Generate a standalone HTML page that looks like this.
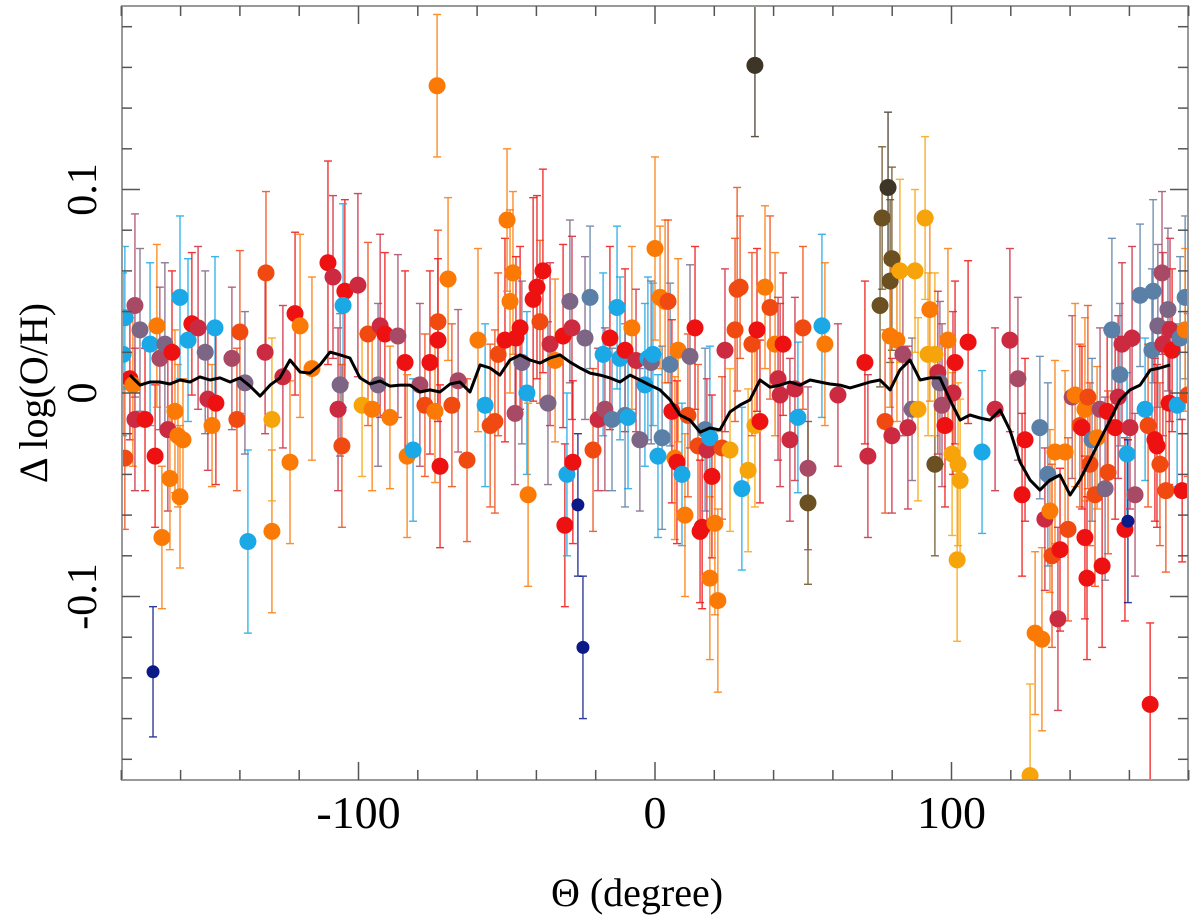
<!DOCTYPE html>
<html><head><meta charset="utf-8"><style>
body{margin:0;background:#fff}
svg{display:block}
text{font-family:"Liberation Serif",serif;fill:#000}
</style></head><body>
<svg id="chart" width="1200" height="918">
<defs><clipPath id="pc"><rect x="122" y="6" width="1066" height="774"/></clipPath></defs>
<g id="bars" clip-path="url(#pc)"></g>
<g id="pts" clip-path="url(#pc)"></g>
<g id="run" clip-path="url(#pc)"></g>
<g id="axes"></g>
<text x="637" y="906" font-size="40" text-anchor="middle">Θ (degree)</text>
<text transform="translate(47,393) rotate(-90)" font-size="40" text-anchor="middle">Δ log(O/H)</text>
</svg>
<script>
const COLORS={R:"#ee1111",OR:"#f04a10",O:"#fb7a06",A:"#f7a30a",C:"#cc2a40",M:"#a84a66",P:"#7d6585",S:"#5a80a8",B:"#1aa8e6",N:"#0c1a88",D:"#3d3526",W:"#6b5022"};
const xTicks=[-100,0,100];
const xTickLabels=["-100","0","100"];
const yTicks=[-0.1,0,0.1];
const yTickLabels=["-0.1","0","0.1"];
const thetas=[
-179.4,-178.8,-178.8,-177.1,-176.1,-175.4,-175.4,-173.7,-172,-170.3,
-169.3,-168.6,-168,-167,-166.3,-165.3,-164.3,-163.6,-162.9,-161.9,
-160.9,-160.2,-160.2,-159.2,-157.5,-156.2,-154.1,-151.7,-150.8,-149.4,
-148.4,-148.1,-142.7,-141,-140,-138.3,-137.3,-131.2,-131.5,-129.2,
-129.2,-125.5,-123.1,-121.4,-119.7,-115.7,-110.3,-108.6,-106.9,-106.2,
-104.6,-105.2,-105.6,-100.2,-98.8,-96.8,-95.4,-93.4,-92.7,-91.1,
-89.4,-86.7,-84.3,-83.6,-81.6,-79.3,-77.6,-75.9,-74.2,-73.2,
-72.5,-73.2,-73.5,-69.8,-68.5,-66.4,-63.4,-59.7,-57.3,-55.6,
-54,-52.9,-50.6,-49.9,-48.9,-47.9,-47.2,-46.9,-45.5,-44.9,
-43.2,-42.8,-41.1,-39.8,-37.8,-38.8,-36.1,-35.4,-33.7,-31,
-30.4,-29.7,-28.7,-28,-27.7,-26,-24.3,-23.6,-21.9,-20.9,
-19.2,-17.5,-16.9,-15.2,-14.5,-12.8,-11.8,-10.1,-10.1,-9.1,
-7.8,-6.4,-5.1,-3.4,-2.4,-1.3,-0.7,0,1,1.7,
2.4,3.4,4.4,5.1,5.7,6.7,7.4,7.8,9.1,10.1,
11.1,11.8,13.5,14.5,15.2,15.9,16.9,17.5,18.5,18.5,
19.2,20.2,21.2,22.6,23.6,25.3,27,27.7,28.7,29.3,
31.4,32.7,33.7,34.4,35.4,37.1,38.8,40.5,41.5,42.2,
43.2,33.7,45.5,47.2,48.2,49.9,51.6,51.6,56.3,57.3,
61.7,71.8,70.8,76.6,75.9,78.6,77.6,79.3,79.9,79.3,
79.9,81.6,82.6,83.6,85.3,86.7,87.7,88.7,91.1,92.1,
92.7,94.4,94.4,95.4,96.1,96.8,97.8,98.8,100.2,100.5,
101.2,102.2,101.9,102.9,105.6,110.3,114.7,119.7,122.4,123.8,
124.8,126.5,128.2,129.8,130.5,131.5,132.5,133.2,133.9,134.9,
135.9,136.6,138.3,139.3,140.7,141.7,143.3,144,145,145,
145.7,146,146.7,147.4,148.4,149.1,150.1,150.8,151.8,152.5,
152.8,154.1,155.2,156.2,156.8,157.5,158.5,159.2,159.5,160.2,
160.9,161.9,163.6,165.3,166.3,167,167.6,168,168.6,169.3,
169.6,170.3,171,171.3,172.3,173,173.4,173.7,174.4,176.1,
177.1,177.8,178.8,179.7,178.8];
const values=[
0.019,-0.032,0.037,0.007,0.004,-0.013,0.043,0.031,-0.013,0.024,
-0.137,-0.031,0.033,0.017,-0.071,0.024,-0.018,-0.042,0.02,-0.009,
-0.021,0.047,-0.051,-0.023,0.026,0.034,0.032,0.02,-0.003,-0.016,
0.032,-0.005,0.017,-0.013,0.03,0.005,-0.073,0.059,0.02,-0.068,
-0.013,0.008,-0.034,0.039,0.033,0.012,0.064,0.057,-0.008,0.004,
0.05,0.043,-0.026,0.053,-0.006,0.029,-0.008,0.004,0.033,0.029,
-0.012,0.028,0.015,-0.031,-0.028,0.004,-0.006,0.015,-0.009,0.035,
-0.036,0.026,0.151,0.056,-0.006,0.006,-0.033,0.026,-0.006,-0.016,
-0.014,0.019,0.026,0.085,0.045,0.059,-0.010,0.027,0.032,0.015,
0.0,-0.05,0.046,0.052,0.06,0.035,-0.005,0.024,0.016,0.028,
-0.065,-0.04,0.045,0.032,-0.034,-0.055,-0.125,0.027,0.047,-0.028,
-0.013,0.019,-0.008,0.027,-0.013,0.042,0.017,0.021,-0.011,-0.012,
0.032,0.016,-0.023,0.004,0.017,0.015,0.019,0.071,-0.031,0.047,
-0.022,0.045,0.045,0.014,-0.009,-0.032,-0.034,0.021,-0.04,-0.06,
-0.011,0.018,0.032,-0.026,-0.068,-0.066,-0.018,-0.028,-0.022,-0.091,
-0.041,-0.064,-0.102,-0.027,0.021,-0.028,0.031,0.051,0.052,-0.047,
-0.038,0.024,-0.016,0.031,-0.014,0.052,0.042,0.024,0.007,-0.001,
0.024,0.161,-0.023,0.002,-0.012,0.032,-0.037,-0.054,0.033,0.024,
-0.001,-0.031,0.015,0.086,0.043,0.101,-0.014,0.055,0.066,0.028,
-0.021,0.026,0.06,0.019,-0.017,-0.008,0.06,-0.008,0.086,0.019,
0.041,-0.035,0.019,0.01,0.005,-0.006,-0.016,0.026,-0.03,0.0,
0.015,-0.035,-0.082,-0.043,0.025,-0.029,-0.008,0.026,0.007,-0.05,
-0.023,-0.188,-0.118,-0.017,-0.121,-0.062,-0.04,-0.058,-0.08,-0.029,
-0.111,-0.077,-0.029,-0.067,-0.002,-0.001,-0.016,-0.017,-0.071,-0.008,
-0.091,-0.002,-0.035,-0.023,-0.05,-0.022,-0.008,-0.085,-0.047,-0.009,
-0.039,0.031,-0.017,-0.002,0.009,0.024,-0.067,-0.03,-0.063,-0.017,
0.027,-0.05,0.048,-0.008,-0.016,-0.153,0.021,0.05,-0.023,-0.026,
0.033,-0.035,0.059,0.024,-0.048,0.041,-0.005,0.031,0.021,-0.006,
0.027,-0.048,0.047,-0.001,0.031];
const errors=[
0.04,0.035,0.035,0.03,0.04,0.035,0.045,0.04,0.035,0.04,
0.032,0.035,0.04,0.035,0.035,0.04,0.04,0.035,0.04,0.04,
0.035,0.04,0.035,0.03,0.04,0.035,0.04,0.04,0.035,0.03,
0.035,0.04,0.035,0.035,0.04,0.035,0.045,0.04,0.04,0.04,
0.04,0.035,0.04,0.04,0.045,0.045,0.05,0.04,0.04,0.035,
0.045,0.05,0.04,0.045,0.035,0.045,0.04,0.04,0.045,0.04,
0.035,0.04,0.045,0.04,0.035,0.04,0.035,0.045,0.035,0.045,
0.04,0.04,0.035,0.04,0.04,0.035,0.04,0.045,0.04,0.04,
0.045,0.04,0.05,0.035,0.045,0.04,0.035,0.04,0.04,0.04,
0.04,0.045,0.05,0.045,0.05,0.04,0.04,0.04,0.04,0.045,
0.04,0.04,0.04,0.045,0.04,0.035,0.035,0.04,0.035,0.04,
0.035,0.04,0.04,0.045,0.035,0.04,0.04,0.04,0.045,0.035,
0.04,0.035,0.035,0.04,0.04,0.04,0.035,0.045,0.04,0.035,
0.045,0.04,0.04,0.04,0.045,0.04,0.04,0.045,0.035,0.04,
0.04,0.045,0.04,0.04,0.035,0.04,0.04,0.035,0.045,0.04,
0.04,0.045,0.045,0.035,0.04,0.04,0.045,0.05,0.035,0.04,
0.04,0.045,0.04,0.04,0.04,0.04,0.045,0.045,0.04,0.045,
0.035,0.035,0.04,0.045,0.037,0.04,0.04,0.04,0.045,0.04,
0.035,0.04,0.04,0.035,0.04,0.037,0.045,0.04,0.045,0.035,
0.038,0.04,0.045,0.04,0.04,0.035,0.04,0.045,0.04,0.04,
0.045,0.045,0.04,0.04,0.04,0.04,0.04,0.045,0.04,0.04,
0.04,0.04,0.04,0.04,0.04,0.04,0.04,0.045,0.04,0.04,
0.04,0.045,0.04,0.035,0.045,0.035,0.045,0.04,0.045,0.045,
0.045,0.04,0.04,0.045,0.04,0.045,0.04,0.04,0.04,0.045,
0.04,0.045,0.04,0.04,0.045,0.035,0.04,0.04,0.045,0.04,
0.04,0.045,0.045,0.04,0.035,0.04,0.045,0.04,0.04,0.04,
0.045,0.04,0.035,0.035,0.04,0.04,0.04,0.045,0.04,0.04,
0.04,0.04,0.04,0.045,0.04,0.04,0.04,0.045,0.04,0.04,
0.04,0.035,0.04,0.04,0.04];
const colorKeys=[
"B","OR","B","R","O","C","M","P","R","B",
"N","R","O","M","O","P","C","O","R","O",
"O","B","O","O","B","R","C","P","C","O",
"B","R","M","OR","OR","P","B","OR","C","O",
"A","C","O","R","O","O","R","C","C","P",
"R","B","OR","C","A","OR","O","P","C","R",
"O","M","R","O","B","M","OR","R","O","OR",
"R","R","O","O","OR","M","OR","O","B","OR",
"OR","OR","R","O","O","O","M","R","R","P",
"B","O","R","R","R","OR","P","C","O","R",
"R","B","P","C","R","N","N","P","S","OR",
"C","B","M","R","S","B","B","R","S","B",
"O","C","P","B","B","P","B","O","B","O",
"S","O","OR","S","R","O","R","O","B","O",
"OR","P","R","OR","R","R","S","C","B","O",
"R","O","O","OR","C","A","OR","OR","OR","B",
"A","OR","A","R","R","O","OR","O","C","C",
"R","D","C","C","B","OR","M","W","B","O",
"C","C","R","W","W","D","OR","W","W","O",
"C","O","A","M","C","P","A","A","A","A",
"O","W","A","C","P","M","R","O","A","C",
"R","A","A","A","R","B","C","C","M","R",
"R","A","O","S","O","C","S","O","OR","O",
"C","R","O","OR","M","O","OR","R","R","O",
"R","OR","OR","S","OR","O","M","R","P","R",
"OR","S","R","C","S","C","R","B","N","C",
"C","M","S","B","OR","R","S","S","R","R",
"P","OR","M","C","OR","P","R","C","R","B",
"S","R","S","OR","O"];
const meanTheta=[-177.1,-173.7,-170.3,-167.0,-163.6,-160.2,-156.8,-153.5,-150.1,-146.7,-143.3,-140.0,-136.6,-133.2,-129.8,-126.5,-123.1,-119.7,-116.4,-113.0,-109.6,-106.2,-102.9,-99.5,-96.1,-92.7,-89.4,-86.0,-82.6,-79.3,-75.9,-72.5,-69.1,-65.8,-62.4,-59.0,-55.6,-52.3,-48.9,-45.5,-42.2,-38.8,-35.4,-32.0,-28.7,-25.3,-21.9,-18.5,-15.2,-11.8,-8.4,-5.1,-1.7,1.7,5.1,8.4,11.8,15.2,18.5,21.9,25.3,28.7,32.0,35.4,38.8,42.2,45.5,48.9,52.3,55.6,59.0,62.4,65.8,69.1,72.5,75.9,79.3,82.6,86.0,89.4,92.7,96.1,99.5,102.9,106.2,109.6,113.0,116.4,119.7,123.1,126.5,129.8,133.2,136.6,140.0,143.3,146.7,150.1,153.5,156.8,160.2,163.6,167.0,170.3,173.7];
const meanValues=[.0088,.0039,.0054,.0054,.0044,.0064,.0054,.0079,.0064,.0074,.0054,.0074,.0034,-.0015,.0039,.0074,.0162,.0103,.0098,.0138,.0201,.0187,.0172,.0074,.0044,.0059,.0034,.0039,.0039,.0005,.0015,.0005,.0044,.0054,.0005,.0138,.0123,.0088,.0162,.0187,.0162,.0147,.0172,.0187,.0152,.0123,.0098,.0088,.0074,.0054,.0088,.0064,.0039,.0015,-.0034,-.0108,-.0133,-.0192,-.0172,-.0182,-.0093,-.0059,-.0034,.0064,.0029,.0039,.0054,.0039,.0064,.0054,.0044,.0039,.0025,.0039,.0054,.0064,.0015,.0113,.0162,.0064,.0074,.0074,-.0034,-.0133,-.0108,-.0123,-.0133,-.0084,-.0182,-.0339,-.0428,-.0477,-.0428,-.0403,-.0501,-.0428,-.0329,-.0231,-.0133,-.0034,.0015,.0039,.0113,.0123,.0138];

const X0=122,X1=1188,Y0=6,Y1=780;
function xs(t){return 655+t*2.965;}
function ys(v){return 393-v*2035;}
const NS="http://www.w3.org/2000/svg";
function mk(tag,attrs,parent){const e=document.createElementNS(NS,tag);for(const k in attrs)e.setAttribute(k,attrs[k]);parent.appendChild(e);return e;}
const gB=document.getElementById('bars'),gP=document.getElementById('pts'),gR=document.getElementById('run'),gA=document.getElementById('axes');
const n=Math.min(thetas.length,values.length,errors.length,colorKeys.length);
for(let i=0;i<n;i++){
  const x=xs(thetas[i]),yt=ys(values[i]+errors[i]),yb=ys(values[i]-errors[i]),c=COLORS[colorKeys[i]]||"#e33";
  const g=mk('g',{stroke:c,'stroke-width':1.4,opacity:0.85},gB);
  
  
  mk('line',{x1:x,x2:x,y1:yt,y2:yb},g);
  mk('line',{x1:x-4,x2:x+4,y1:yt,y2:yt},g);
  mk('line',{x1:x-4,x2:x+4,y1:yb,y2:yb},g);
}
for(let i=0;i<n;i++){
  const c=COLORS[colorKeys[i]]||"#e33";
  const r=(colorKeys[i]==="N")?6.5:8.5;
  const p=mk('circle',{cx:xs(thetas[i]),cy:ys(values[i]),r:r,fill:c},gP);
  
  
}
let d="";
for(let i=0;i<meanTheta.length;i++){d+=(i?"L":"M")+xs(meanTheta[i]).toFixed(1)+","+ys(meanValues[i]).toFixed(1);}
const ml=mk('path',{d:d,fill:"none",stroke:"#000","stroke-width":3,"stroke-linejoin":"round"},gR);


const fr=mk('rect',{x:X0,y:Y0,width:X1-X0,height:Y1-Y0,fill:"none",stroke:"#999","stroke-width":2},gA);


for(let t=-180;t<=180;t+=20){
  const x=xs(t);const major=(t%100===0);const L=major?18:10;
  mk('line',{x1:x,x2:x,y1:Y1,y2:Y1-L,stroke:"#555","stroke-width":1.5},gA);
  mk('line',{x1:x,x2:x,y1:Y0,y2:Y0+L,stroke:"#555","stroke-width":1.5},gA);
}
for(let k=-9;k<=9;k++){
  const v=k*0.02;const y=ys(v);if(y<Y0||y>Y1)continue;
  const major=(Math.abs(k)%5===0);const L=major?18:10;
  mk('line',{x1:X0,x2:X0+L,y1:y,y2:y,stroke:"#555","stroke-width":1.5},gA);
  mk('line',{x1:X1,x2:X1-L,y1:y,y2:y,stroke:"#555","stroke-width":1.5},gA);
}
xTicks.forEach((t,i)=>{
  const tx=mk('text',{x:xs(t),y:828,'font-size':46,'text-anchor':'middle'},gA);
  tx.textContent=xTickLabels[i];
  
  
});
yTicks.forEach((v,i)=>{
  const tx=mk('text',{transform:`translate(96,${ys(v)}) rotate(-90)`,'font-size':42,'text-anchor':'middle'},gA);
  tx.textContent=yTickLabels[i];
  
  
});
</script>
</body></html>
